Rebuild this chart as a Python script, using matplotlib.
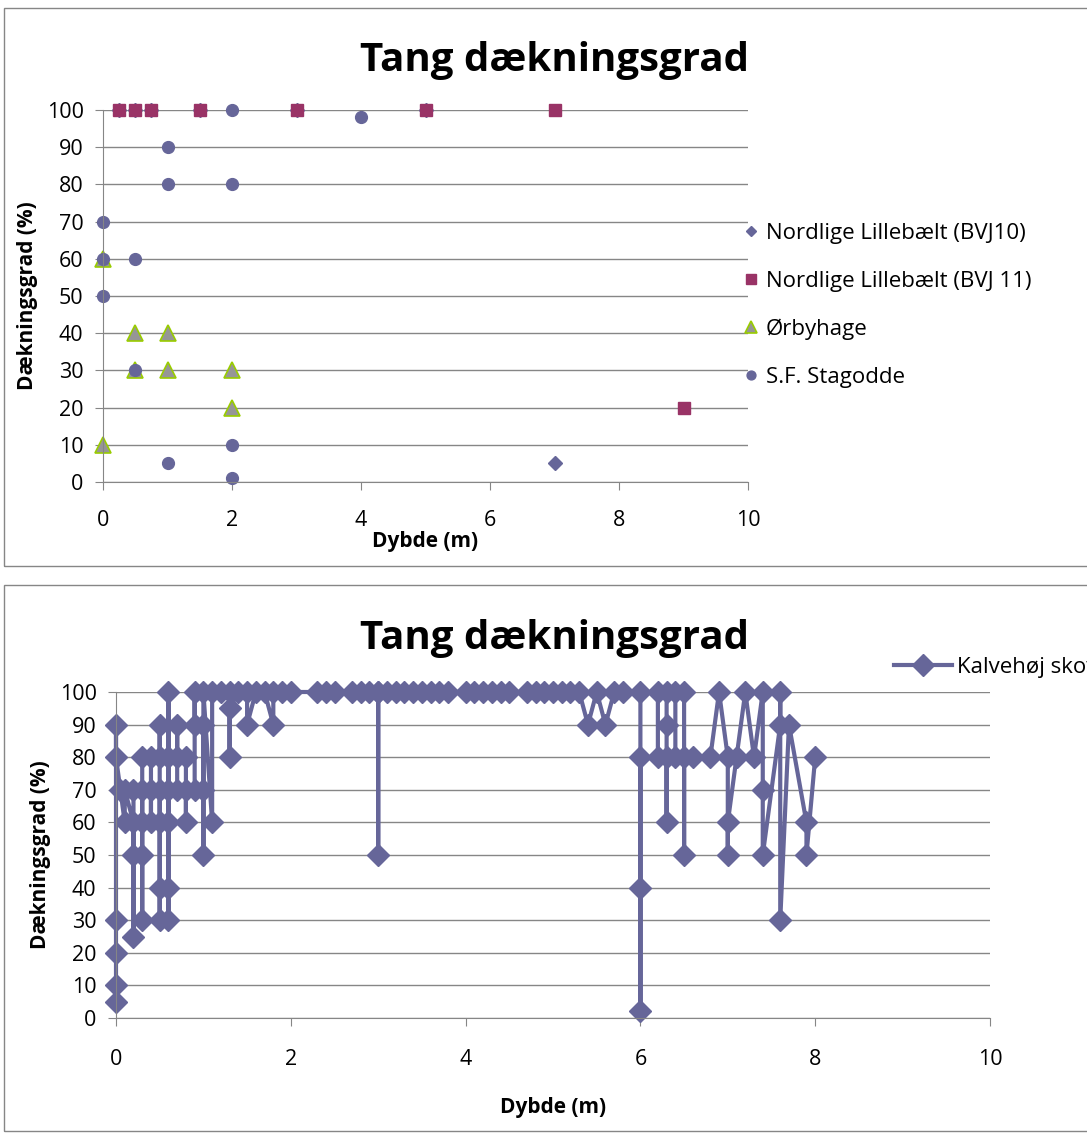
import matplotlib as mpl
import matplotlib.pyplot as plt
from matplotlib.patches import Rectangle

plt.rcParams['font.family'] = ['Open Sans', 'DejaVu Sans']

# top chart data
bvj10_x = [0.25, 0.5, 0.75, 1.5, 3, 5, 7]
bvj10_y = [100, 100, 100, 100, 100, 100, 5]
bvj11_x = [0.25, 0.5, 0.75, 1.5, 3, 5, 7, 9]
bvj11_y = [100, 100, 100, 100, 100, 100, 100, 20]
orby_x = [0, 0, 0.5, 0.5, 1, 1, 2, 2]
orby_y = [60, 10, 40, 30, 40, 30, 30, 20]
stag_x = [0, 0, 0, 0.5, 0.5, 1, 1, 1, 2, 2, 2, 2, 4]
stag_y = [70, 60, 50, 60, 30, 90, 80, 5, 100, 80, 10, 1, 98]

# bottom chart data (Kalvehøj skov), in recorded order
kalve_x = [0, 0, 0, 0, 0, 0,
           0.05, 0.1, 0.1, 0.2, 0.2, 0.2, 0.2,
           0.3, 0.3, 0.3, 0.3, 0.3,
           0.4, 0.4, 0.4,
           0.5, 0.5, 0.5, 0.5, 0.5, 0.5,
           0.6, 0.6, 0.6, 0.6, 0.6, 0.6,
           0.7, 0.7, 0.7,
           0.8, 0.8, 0.8,
           0.9, 0.9, 0.9,
           1.0, 1.0, 1.0, 1.0,
           1.1, 1.1, 1.2, 1.3, 1.3, 1.3, 1.4, 1.5, 1.5, 1.6, 1.7, 1.8, 1.8, 1.9, 2.0,
           2.3, 2.4, 2.5,
           2.7, 2.8, 2.9, 3.0, 3.0, 3.0, 3.1, 3.2, 3.3, 3.4, 3.5, 3.6, 3.7, 3.8,
           4.0, 4.1, 4.2, 4.3, 4.4, 4.5,
           4.7, 4.8, 4.9, 5.0, 5.1, 5.2, 5.3, 5.4, 5.5, 5.6, 5.7, 5.8,
           6.0, 6.0, 6.0, 6.0, 6.2, 6.2, 6.3, 6.3, 6.3, 6.3, 6.4, 6.4,
           6.5, 6.5, 6.5, 6.6, 6.8, 6.9, 7.0, 7.0, 7.0, 7.1, 7.2, 7.3,
           7.4, 7.4, 7.4, 7.6, 7.6, 7.6, 7.7, 7.9, 7.9, 8.0]
kalve_y = [5, 10, 20, 30, 90, 80,
           70, 60, 70, 60, 25, 50, 70,
           70, 30, 50, 60, 80,
           80, 60, 70,
           70, 30, 40, 60, 90, 80,
           80, 40, 30, 60, 100, 70,
           70, 90, 80,
           80, 60, 70,
           70, 100, 90,
           90, 50, 70, 100,
           60, 100, 100, 100, 80, 95, 100, 100, 90, 100, 100, 90, 100, 100, 100,
           100, 100, 100,
           100, 100, 100, 100, 50, 100, 100, 100, 100, 100, 100, 100, 100, 100,
           100, 100, 100, 100, 100, 100,
           100, 100, 100, 100, 100, 100, 100, 90, 100, 90, 100, 100,
           100, 2, 40, 80, 80, 100, 100, 60, 90, 80, 80, 100,
           100, 50, 80, 80, 80, 100, 80, 50, 60, 80, 100, 80,
           100, 70, 50, 90, 100, 30, 90, 60, 50, 80]

purple = '#666699'
grid_c = '#868686'

W, H = 1087, 1135
fig = plt.figure(figsize=(W / 100, H / 100), dpi=100)

# chart frames
fig.patches.append(Rectangle((4 / W, 1 - 566 / H), 1.1, 558 / H, transform=fig.transFigure,
                             fill=False, edgecolor=grid_c, lw=1))
fig.patches.append(Rectangle((4 / W, 1 - 1131 / H), 1.1, 546 / H, transform=fig.transFigure,
                             fill=False, edgecolor=grid_c, lw=1))


def style_axes(ax, xpad, lpad):
    ax.set_ylim(0, 100)
    ax.set_xlim(0, 10)
    ax.set_yticks(range(0, 101, 10))
    ax.set_xticks(range(0, 11, 2))
    ax.yaxis.grid(True, color=grid_c, lw=1)
    ax.set_axisbelow(True)
    for s in ['top', 'right']:
        ax.spines[s].set_visible(False)
    for s in ['left', 'bottom']:
        ax.spines[s].set_color(grid_c)
    ax.tick_params(colors=grid_c, labelcolor='black', labelsize=15.5, length=6, direction='out')
    ax.tick_params(axis='y', pad=8)
    ax.tick_params(axis='x', pad=xpad)
    ax.set_ylabel('Dækningsgrad (%)', fontsize=15, fontweight='bold', labelpad=6)
    ax.set_xlabel('Dybde (m)', fontsize=15, fontweight='bold', labelpad=lpad)


# top chart
ax1 = fig.add_axes([103 / W, 1 - 482 / H, 645 / W, 372 / H])
style_axes(ax1, 14, 0)
ax1.plot(bvj10_x, bvj10_y, 'D', color=purple, ms=7, ls='none', label='Nordlige Lillebælt (BVJ10)', clip_on=False)
ax1.plot(bvj11_x, bvj11_y, 's', color='#993366', ms=9, ls='none', label='Nordlige Lillebælt (BVJ 11)', clip_on=False)
ax1.plot(orby_x, orby_y, '^', color='#969696', mec='#99CC00', mew=1.2, ms=11, ls='none', label='Ørbyhage', clip_on=False)
ax1.plot(stag_x, stag_y, 'o', color=purple, ms=8.5, ls='none', label='S.F. Stagodde', clip_on=False)
ax1.legend(loc='upper left', bbox_to_anchor=(730 / W, 1 - 212 / H), bbox_transform=fig.transFigure,
           frameon=False, fontsize=16, handlelength=0.9, handletextpad=0.2, labelspacing=1.2,
           markerscale=0.75, borderpad=0)
fig.text(554 / W, 1 - 61 / H, 'Tang dækningsgrad', ha='center', va='center', fontsize=29, fontweight='bold')

# bottom chart
ax2 = fig.add_axes([116 / W, 1 - 1018 / H, 874 / W, 326 / H])
style_axes(ax2, 16, 20)
ax2.plot(kalve_x, kalve_y, '-D', color=purple, lw=3, ms=11, label='Kalvehøj skov', clip_on=False)
ax2.legend(loc='center left', bbox_to_anchor=(883 / W, 1 - 667 / H), bbox_transform=fig.transFigure,
           frameon=False, fontsize=16, handlelength=2.6, handletextpad=0.25, borderpad=0)
fig.text(554 / W, 1 - 638 / H, 'Tang dækningsgrad', ha='center', va='center', fontsize=29, fontweight='bold')

plt.savefig('out.png', dpi=100)
